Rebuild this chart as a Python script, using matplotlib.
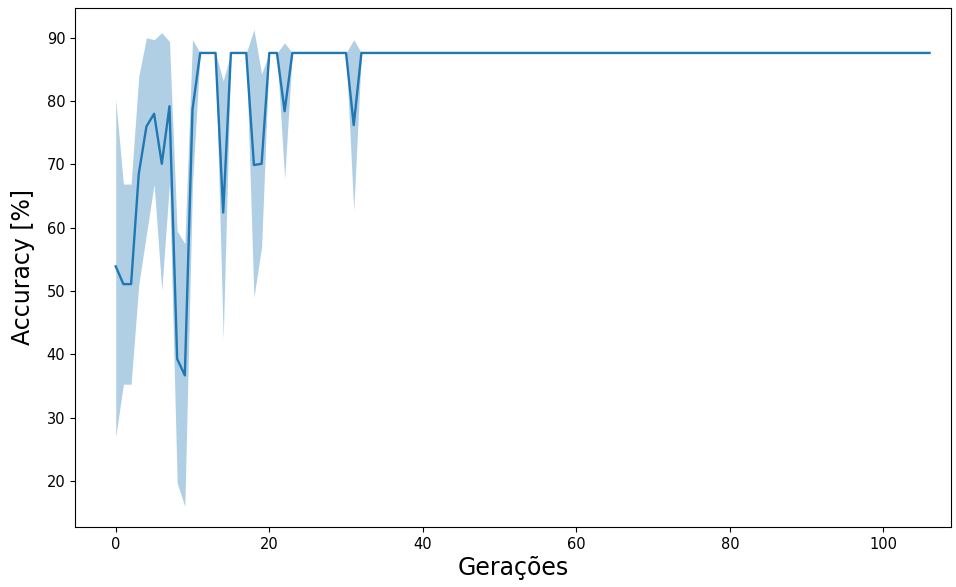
import matplotlib
matplotlib.use('Agg')
import matplotlib.pyplot as plt
import numpy as np

# média da accuracy por geração (0..106) e o intervalo de confiança
geracoes = list(range(107))
media_inicio = [53.9, 51.1, 51.1, 68.5, 76.0, 78.0, 70.1, 79.2, 39.3, 36.7,
                78.7, 87.6, 87.6, 87.6, 62.4, 87.6, 87.6, 87.6, 69.9, 70.1,
                87.6, 87.6, 78.4, 87.6, 87.6, 87.6, 87.6, 87.6, 87.6, 87.6,
                87.6, 76.2, 87.6]
sup_inicio = [80.3, 66.9, 66.9, 83.9, 90.0, 89.7, 90.8, 89.4, 59.5, 57.5,
              89.7, 87.6, 87.6, 87.6, 83.2, 87.6, 87.6, 87.6, 91.3, 84.3,
              87.6, 87.6, 89.2, 87.6, 87.6, 87.6, 87.6, 87.6, 87.6, 87.6,
              87.6, 89.7, 87.6]
inf_inicio = [27.0, 35.3, 35.3, 51.0, 59.0, 66.9, 50.1, 67.0, 19.7, 16.0,
              67.0, 87.6, 87.6, 87.6, 42.5, 87.6, 87.6, 87.6, 49.0, 57.0,
              87.6, 87.6, 67.7, 87.6, 87.6, 87.6, 87.6, 87.6, 87.6, 87.6,
              87.6, 62.7, 87.6]
resto = [87.6] * (len(geracoes) - len(media_inicio))
media = media_inicio + resto
superior = sup_inicio + resto
inferior = inf_inicio + resto

fig = plt.figure(figsize=(9.56, 5.87), dpi=100)
ax = fig.add_axes([0.0785, 0.1022, 0.9163, 0.8842])

ax.fill_between(geracoes, inferior, superior, color='#1f77b4', alpha=0.35, linewidth=0)
ax.plot(geracoes, media, color='#1f77b4', linewidth=1.7)

ax.set_xlim(-5.3, 108.8)
ax.set_ylim(12.75, 94.7)
ax.set_xticks([0, 20, 40, 60, 80, 100])
ax.set_yticks([20, 30, 40, 50, 60, 70, 80, 90])
ax.tick_params(labelsize=10.5)
ax.set_xlabel('Gerações', fontsize=17, labelpad=3)
ax.set_ylabel('Accuracy [%]', fontsize=17, labelpad=8)

fig.savefig('out.png', dpi=100)
